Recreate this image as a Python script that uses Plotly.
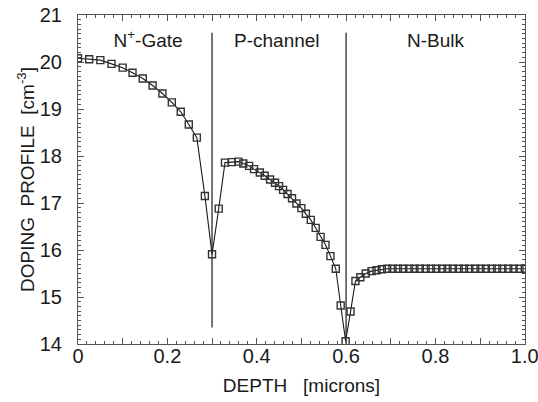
import plotly.graph_objects as go

# Depth (microns) and log10 doping (cm^-3)
depth = [0.0, 0.025, 0.05, 0.075, 0.1, 0.122, 0.145, 0.167, 0.189, 0.21, 0.23, 0.248, 0.266,
         0.284, 0.3, 0.315,
         0.329, 0.344, 0.359, 0.370, 0.383, 0.394, 0.407, 0.418, 0.430, 0.441, 0.450, 0.459,
         0.469, 0.479, 0.489, 0.500, 0.510, 0.521, 0.532, 0.543, 0.554, 0.565, 0.577,
         0.588, 0.599, 0.610, 0.621, 0.632, 0.644, 0.657, 0.668, 0.680, 0.692,
         0.704, 0.716, 0.728, 0.741, 0.753, 0.765, 0.778, 0.790, 0.802, 0.815, 0.827, 0.839,
         0.852, 0.864, 0.876, 0.889, 0.901, 0.913, 0.926, 0.938, 0.950, 0.963, 0.975, 0.988, 1.0]
doping = [20.08, 20.06, 20.04, 19.96, 19.88, 19.77, 19.65, 19.50, 19.33, 19.14, 18.94, 18.67, 18.39,
          17.15, 15.91, 16.88,
          17.86, 17.87, 17.88, 17.84, 17.79, 17.72, 17.65, 17.58, 17.50, 17.43, 17.36, 17.28,
          17.19, 17.10, 16.99, 16.89, 16.77, 16.64, 16.47, 16.28, 16.11, 15.87, 15.60,
          14.82, 14.06, 14.69, 15.34, 15.42, 15.50, 15.55, 15.57, 15.59, 15.60,
          15.60, 15.60, 15.60, 15.60, 15.60, 15.60, 15.60, 15.60, 15.60, 15.60, 15.60, 15.60,
          15.60, 15.60, 15.60, 15.60, 15.60, 15.60, 15.60, 15.60, 15.60, 15.60, 15.60, 15.60, 15.60]

# Region boundaries
boundary_x = [0.3, 0.6]
boundary_top = [20.62, 20.62]
boundary_bottom = [14.35, 14.0]

# Region labels
region_labels = ["N<sup>+</sup>-Gate", "P-channel", "N-Bulk"]
region_label_x = [0.157, 0.445, 0.8]
region_label_y = [20.43, 20.43, 20.43]

x_ticks = [0.0, 0.1, 0.2, 0.3, 0.4, 0.5, 0.6, 0.7, 0.8, 0.9, 1.0]
x_ticktext = ["0", "", "0.2", "", "0.4", "", "0.6", "", "0.8", "", "1.0"]
y_ticks = [14, 15, 16, 17, 18, 19, 20, 21]

FONT = "Liberation Sans, Arial, sans-serif"
INK = "#1a1a1a"

fig = go.Figure()

for bx, bt, bb in zip(boundary_x, boundary_top, boundary_bottom):
    fig.add_trace(go.Scatter(x=[bx, bx], y=[bt, bb], mode="lines",
                             line=dict(color=INK, width=1.2), showlegend=False,
                             hoverinfo="skip"))

fig.add_trace(go.Scatter(
    x=depth, y=doping, mode="lines+markers",
    line=dict(color=INK, width=1.1),
    marker=dict(symbol="square-open", size=7, color="#333333", line=dict(width=1.4)),
    showlegend=False))

fig.add_trace(go.Scatter(
    x=region_label_x, y=region_label_y, mode="text", text=region_labels,
    textfont=dict(family=FONT, size=19, color=INK), showlegend=False, hoverinfo="skip"))

axis_common = dict(
    showgrid=False, zeroline=False, showline=True, linecolor="#555555", linewidth=1.2,
    mirror="ticks", ticks="inside", ticklen=6, tickcolor="#555555", tickwidth=1,
    tickfont=dict(family=FONT, size=20, color=INK), automargin=False,
    ticklabeloverflow="allow",
)

fig.update_xaxes(
    range=[0, 1.0005], tickmode="array", tickvals=x_ticks, ticktext=x_ticktext,
    ticklabelstandoff=-6,
    minor=dict(dtick=0.02, ticks="inside", ticklen=3, tickcolor="#555555"),
    title=dict(text="DEPTH   [microns]", font=dict(family=FONT, size=19, color=INK), standoff=12),
    **axis_common)
fig.update_yaxes(
    range=[14, 21], tickmode="array", tickvals=y_ticks,
    ticklabelstandoff=11,
    minor=dict(dtick=0.1, ticks="inside", ticklen=3, tickcolor="#555555"),
    title=dict(text="DOPING  PROFILE  [cm<sup>-3</sup>]", font=dict(family=FONT, size=19, color=INK),
               standoff=0),
    **axis_common)

fig.update_layout(
    width=538, height=402,
    margin=dict(l=78, r=13, t=15, b=58),
    paper_bgcolor="white", plot_bgcolor="white",
)

# Remove the browser's default body margin so the figure fills the window exactly.
fig.write_html("out.html",
               config={"displayModeBar": False},
               post_script="document.body.style.margin='0';document.body.style.overflow='hidden';")
